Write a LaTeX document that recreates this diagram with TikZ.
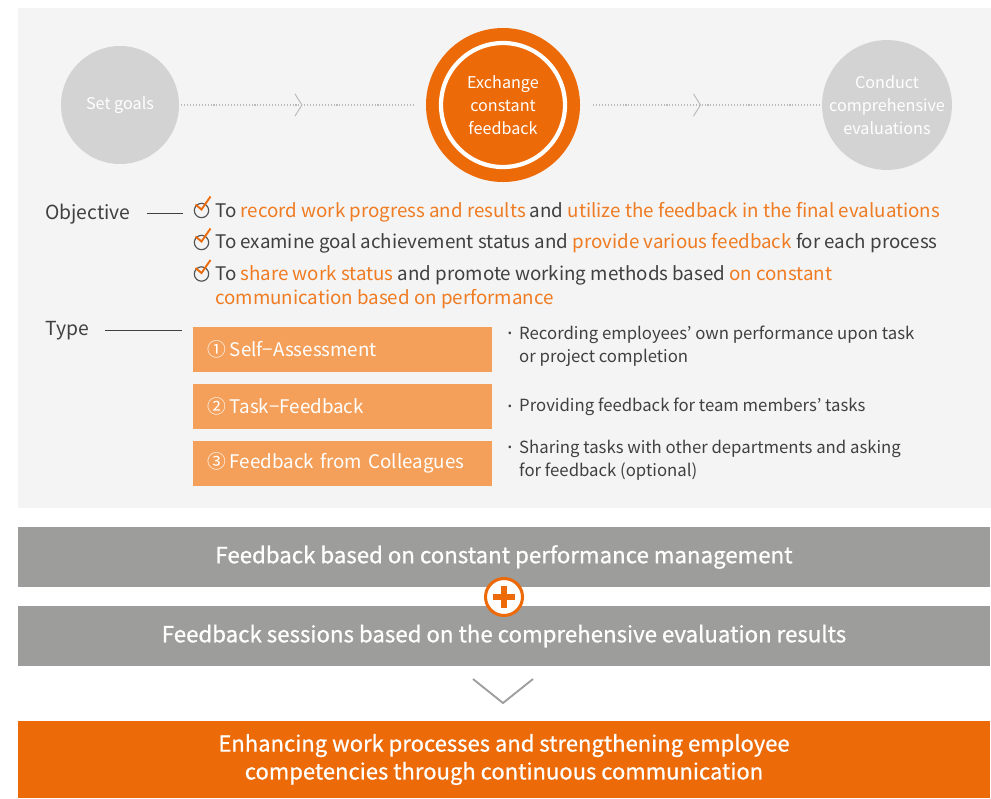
\documentclass[tikz,border=0pt]{standalone}
\usepackage{fontspec}
\setmainfont{Noto Sans CJK KR}
\newfontfamily\semibold[FakeBold=0.8]{Noto Sans CJK KR}
\usepackage{xcolor}
\usepackage{tikz}
\usetikzlibrary{arrows.meta,decorations.markings}

\definecolor{panelgray}{HTML}{F4F4F4}
\definecolor{phasegray}{HTML}{D3D3D3}
\definecolor{deeporange}{HTML}{EC6A08}
\definecolor{textorange}{HTML}{EF7B22}
\definecolor{boxorange}{HTML}{F5A05A}
\definecolor{bargray}{HTML}{9D9D9C}
\definecolor{darktext}{HTML}{404040}
\newcommand{\hl}[1]{\textcolor{textorange}{#1}}
\newcommand{\dotmark}{\raisebox{2.2pt}{\fontsize{9}{9}\selectfont\textbullet}}

\begin{document}
\begin{tikzpicture}[x=0.03cm, y=-0.03cm,
    phase/.style={circle, fill=phasegray, text=white, minimum size=3.54cm, inner sep=0pt, align=center, font=\fontsize{13.8}{19.6}\selectfont},
    flow/.style={draw=gray!55, line width=0.9pt, dash pattern=on 0.9pt off 1.6pt,
        postaction={decorate, decoration={markings, mark=at position 0.5 with {\arrow{Straight Barb[length=6pt, width=19pt, line width=0.8pt]}}}}},
    lbl/.style={anchor=base west, inner sep=0pt, text=darktext, font=\fontsize{16.5}{20}\selectfont},
    leader/.style={draw=darktext, line width=0.8pt},
    chk/.style={circle, draw=darktext!90, line width=1pt, minimum size=0.43cm, inner sep=0pt},
    tick/.style={draw=deeporange, line width=1.6pt},
    objtext/.style={anchor=base west, inner sep=0pt, text=darktext, font=\fontsize{16}{20}\selectfont},
    typebox/.style={fill=boxorange, text=white, minimum height=1.35cm, text width=8.07cm, inner xsep=0.45cm, align=left, font=\fontsize{16}{20}\selectfont},
    desc/.style={anchor=base west, inner sep=0pt, text=darktext, font=\fontsize{14.3}{19.9}\selectfont},
    bar/.style={fill=bargray, text=white, minimum width=29.16cm, minimum height=1.8cm, inner sep=0pt, font=\semibold\fontsize{19}{22}\selectfont},
    plusring/.style={circle, draw=deeporange, line width=2.6pt, fill=white, minimum size=1.11cm, inner sep=0pt}
]
    \useasboundingbox[fill=white] (0,0) rectangle (991,798);
    \fill[panelgray] (18,8) rectangle (991,508);

    % phases
    \node[phase] (goal) at (120,105) {Set goals};
    \node[phase, fill=deeporange, minimum size=4.62cm] (fb) at (503,105) {Exchange\\constant\\feedback};
    \draw[white, line width=3.6pt] (fb.center) circle (1.86cm);
    \node[phase] (eval) at (887,105) {Conduct\\comprehensive\\evaluations};
    \draw[flow, shorten <=0.06cm, shorten >=0.33cm] (goal) -- (fb);
    \draw[flow, shorten <=0.39cm, shorten >=0.06cm] (fb) -- (eval);

    % objective
    \node[lbl] (objlbl) at (45,219) {Objective};
    \foreach \n/\y in {c1/210.5, c2/242.5, c3/274} {
        \node[chk] (\n) at (201.5,\y) {};
        \draw[tick] ([shift={(-6,-6)}]\n.center) -- ([shift={(0,-1)}]\n.center) -- ([shift={(9,-14)}]\n.center);
    }
    \draw[leader, shorten <=0.48cm, shorten >=0.33cm] (objlbl.east) -- (objlbl.east -| c1.west);
    \node[objtext] (o1) at (215,217) {To \hl{record work progress and results} and \hl{utilize the feedback in the final evaluations}};
    \node[objtext] (o2) at (215,248.5) {To examine goal achievement status and \hl{provide various feedback} for each process};
    \node[objtext] (o3) at (215,280) {To \hl{share work status} and promote working methods based \hl{on constant}};
    \node[objtext] (o3b) at (215,304.5) {\hl{communication based on performance}};

    % type
    \node[lbl] (typelbl) at (45,335) {Type};
    \node[typebox] (box1) at (342.5,349.5) {①\,Self−Assessment};
    \node[typebox] (box2) at (342.5,406.5) {②\,Task−Feedback};
    \node[typebox] (box3) at (342.5,463) {③\,Feedback from Colleagues};
    \draw[leader, shorten <=0.48cm, shorten >=0.33cm] (typelbl.east) -- (typelbl.east -| box1.west);

    \node[desc] (d1) at (508,339.3) {\begin{tabular}[t]{@{}p{0.33cm}@{}l@{}}\dotmark & Recording employees’ own performance upon task\\ & or project completion\end{tabular}};
    \node[desc] (d2) at (508,411.7) {\begin{tabular}[t]{@{}p{0.33cm}@{}l@{}}\dotmark & Providing feedback for team members’ tasks\end{tabular}};
    \node[desc] (d3) at (508,453.3) {\begin{tabular}[t]{@{}p{0.33cm}@{}l@{}}\dotmark & Sharing tasks with other departments and asking\\ & for feedback (optional)\end{tabular}};

    % summary bars
    \node[bar] (bar1) at (504,557) {Feedback based on constant performance management};
    \node[bar] (bar2) at (504,636) {Feedback sessions based on the comprehensive evaluation results};
    \node[plusring] (plus) at (504,597) {};
    \draw[deeporange, line width=0.17cm] ([xshift=-0.33cm]plus.center) -- ([xshift=0.33cm]plus.center);
    \draw[deeporange, line width=0.17cm] ([yshift=-0.33cm]plus.center) -- ([yshift=0.33cm]plus.center);
    \draw[gray!75, line width=1.6pt] (473,679) -- (503,703) -- (533,679);
    \node[bar, fill=deeporange, minimum height=2.31cm, align=center, font=\semibold\fontsize{18.8}{23.8}\selectfont] (result) at (504,759.5) {Enhancing work processes and strengthening employee\\competencies through continuous communication};
\end{tikzpicture}
\end{document}
